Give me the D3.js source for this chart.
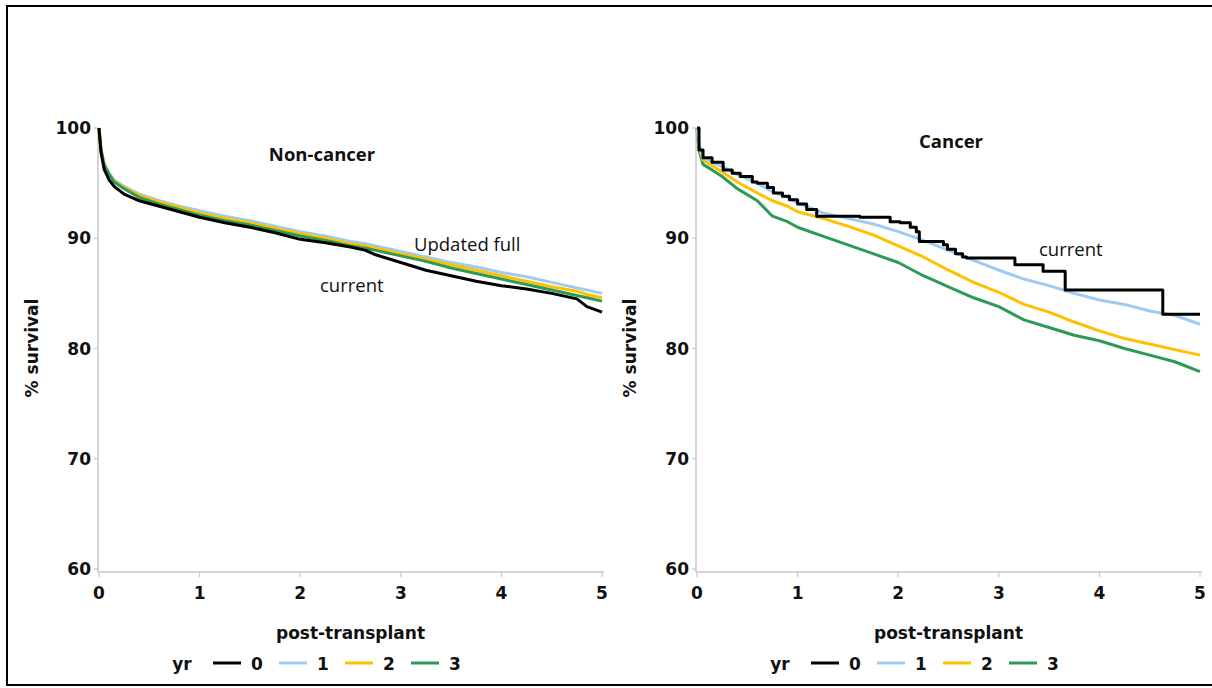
<!DOCTYPE html>
<html>
<head>
<meta charset="utf-8">
<script src="https://cdn.jsdelivr.net/npm/d3@7"></script>
<style>
    body { margin: 0; background: #fff; }
    svg { display: block; }
    .tick-lbl { font-family: "DejaVu Sans", sans-serif; font-weight: bold; font-size: 17px; fill: #111; }
    .note { font-family: "Open Sans", sans-serif; font-size: 18.5px; fill: #111; }
</style>
</head>
<body>
<script>
// years since transplant
const yrLevels = ["0", "1", "2", "3"];
const yrColors = ["#000000", "#9fcaf3", "#ffc000", "#2e9a57"];
const xTicks = [0, 1, 2, 3, 4, 5];
const yTicks = [60, 70, 80, 90, 100];

// Non-cancer: smooth KM curves
const ncTime = [0, 0.02, 0.05, 0.1, 0.15, 0.25, 0.4, 0.6, 0.8, 1.0, 1.25, 1.5, 1.75, 2.0, 2.25, 2.5, 2.65, 2.75, 3.0, 3.25, 3.5, 3.75, 4.0, 4.25, 4.5, 4.75, 4.85, 5.0];
const ncYr0 = [100, 97.8, 96.3, 95.3, 94.7, 94.0, 93.4, 92.9, 92.4, 91.9, 91.4, 91.0, 90.5, 89.9, 89.6, 89.2, 88.9, 88.5, 87.8, 87.1, 86.6, 86.1, 85.7, 85.4, 85.0, 84.5, 83.8, 83.3];
const ncYr1 = [100, 98.1, 96.8, 95.9, 95.3, 94.7, 94.0, 93.4, 92.9, 92.5, 92.0, 91.6, 91.1, 90.6, 90.2, 89.7, 89.5, 89.3, 88.8, 88.3, 87.8, 87.4, 86.9, 86.5, 86.0, 85.5, 85.3, 85.0];
const ncYr2 = [100, 98.0, 96.7, 95.8, 95.2, 94.6, 93.9, 93.3, 92.8, 92.3, 91.8, 91.4, 90.9, 90.4, 90.0, 89.5, 89.3, 89.1, 88.6, 88.1, 87.6, 87.1, 86.6, 86.1, 85.6, 85.2, 84.9, 84.6];
const ncYr3 = [100, 98.0, 96.7, 95.8, 95.1, 94.5, 93.7, 93.1, 92.6, 92.1, 91.6, 91.2, 90.7, 90.2, 89.8, 89.3, 89.1, 88.9, 88.4, 87.9, 87.3, 86.8, 86.3, 85.8, 85.3, 84.8, 84.6, 84.3];

// Cancer: yr 1-3 smooth, yr 0 drawn as steps
const caTime = [0, 0.02, 0.06, 0.15, 0.25, 0.4, 0.6, 0.75, 0.9, 1.0, 1.25, 1.5, 1.75, 2.0, 2.25, 2.5, 2.75, 3.0, 3.25, 3.5, 3.75, 4.0, 4.25, 4.5, 4.75, 5.0];
const caYr1 = [100, 98.5, 97.3, 96.9, 96.5, 95.8, 95.0, 94.2, 93.7, 93.2, 92.3, 91.8, 91.3, 90.6, 89.8, 88.9, 88.0, 87.1, 86.3, 85.7, 85.0, 84.4, 84.0, 83.4, 83.0, 82.2];
const caYr2 = [100, 98.3, 97.1, 96.6, 96.0, 95.1, 94.1, 93.4, 92.9, 92.4, 91.8, 91.1, 90.3, 89.3, 88.3, 87.1, 86.0, 85.1, 84.0, 83.3, 82.4, 81.6, 80.9, 80.4, 79.9, 79.4];
const caYr3 = [100, 98.0, 96.7, 96.2, 95.6, 94.5, 93.4, 92.0, 91.5, 91.0, 90.2, 89.4, 88.6, 87.8, 86.6, 85.6, 84.6, 83.8, 82.6, 81.9, 81.2, 80.7, 80.0, 79.4, 78.8, 77.9];
const caYr0Time = [0, 0.02, 0.06, 0.15, 0.26, 0.35, 0.43, 0.55, 0.6, 0.7, 0.76, 0.85, 0.92, 1.0, 1.09, 1.19, 1.62, 1.92, 2.02, 2.12, 2.18, 2.21, 2.45, 2.49, 2.57, 2.64, 2.68, 3.16, 3.44, 3.66, 4.63, 5.0];
const caYr0 = [100, 98.0, 97.3, 96.9, 96.2, 95.9, 95.6, 95.1, 95.0, 94.6, 94.1, 93.8, 93.5, 93.1, 92.6, 92.0, 91.9, 91.5, 91.4, 91.0, 90.6, 89.7, 89.4, 89.0, 88.6, 88.3, 88.2, 87.6, 87.0, 85.3, 83.1, 83.1];

const width = 1212, height = 688;

const svg = d3.select("body").append("svg")
    .attr("width", width)
    .attr("height", height);

// outer frame
svg.append("rect")
    .attr("x", 7)
    .attr("y", 6)
    .attr("width", 1215)
    .attr("height", 679)
    .attr("fill", "none")
    .attr("stroke", "#000")
    .attr("stroke-width", 2);

function toSeries(time, vals) {
    return time.map((t, i) => ({t: t, v: vals[i]}));
}

const panels = [
    {
        x0: 99, x1: 602,
        title: "Non-cancer", titleX: 322, titleY: 161,
        notes: [
            {text: "Updated full", x: 414, y: 251},
            {text: "current", x: 320, y: 292}
        ],
        series: [
            {yr: 0, data: toSeries(ncTime, ncYr0), curve: d3.curveLinear},
            {yr: 1, data: toSeries(ncTime, ncYr1), curve: d3.curveLinear},
            {yr: 2, data: toSeries(ncTime, ncYr2), curve: d3.curveLinear},
            {yr: 3, data: toSeries(ncTime, ncYr3), curve: d3.curveLinear}
        ],
        order: [1, 2, 3, 0]
    },
    {
        x0: 697, x1: 1200,
        title: "Cancer", titleX: 951, titleY: 148,
        notes: [
            {text: "current", x: 1039, y: 256}
        ],
        series: [
            {yr: 0, data: toSeries(caYr0Time, caYr0), curve: d3.curveStepAfter},
            {yr: 1, data: toSeries(caTime, caYr1), curve: d3.curveLinear},
            {yr: 2, data: toSeries(caTime, caYr2), curve: d3.curveLinear},
            {yr: 3, data: toSeries(caTime, caYr3), curve: d3.curveLinear}
        ],
        order: [3, 2, 1, 0]
    }
];

panels.forEach(p => drawPanel(p));

function drawPanel(p) {
    const x = d3.scaleLinear().domain([0, 5]).range([p.x0, p.x1]);
    const y = d3.scaleLinear().domain([60, 100]).range([569, 128]);
    const axisY = 572;
    const g = svg.append("g");

    // axes
    g.append("line")
        .attr("x1", p.x0 - 1).attr("x2", p.x0 - 1)
        .attr("y1", y(100)).attr("y2", axisY)
        .attr("stroke", "#c8c8c8").attr("stroke-width", 1.5);
    g.append("line")
        .attr("x1", p.x0 - 1).attr("x2", p.x1 + 2)
        .attr("y1", axisY).attr("y2", axisY)
        .attr("stroke", "#c8c8c8").attr("stroke-width", 1.5);

    g.selectAll(".ytick")
        .data(yTicks)
        .enter()
        .append("line")
        .attr("x1", p.x0 - 5).attr("x2", p.x0 - 1)
        .attr("y1", d => y(d)).attr("y2", d => y(d))
        .attr("stroke", "#c8c8c8").attr("stroke-width", 1.2);

    g.selectAll(".ylbl")
        .data(yTicks)
        .enter()
        .append("text")
        .attr("class", "tick-lbl")
        .attr("x", p.x0 - 8)
        .attr("y", d => y(d) + 6)
        .attr("text-anchor", "end")
        .text(d => d);

    g.selectAll(".xtick")
        .data(xTicks)
        .enter()
        .append("line")
        .attr("x1", d => x(d)).attr("x2", d => x(d))
        .attr("y1", axisY).attr("y2", axisY + 5)
        .attr("stroke", "#c8c8c8").attr("stroke-width", 1.2);

    g.selectAll(".xlbl")
        .data(xTicks)
        .enter()
        .append("text")
        .attr("class", "tick-lbl")
        .attr("x", d => x(d))
        .attr("y", 599)
        .attr("text-anchor", "middle")
        .text(d => d);

    g.append("text")
        .attr("class", "tick-lbl")
        .attr("x", (p.x0 + p.x1) / 2)
        .attr("y", 639)
        .attr("text-anchor", "middle")
        .text("post-transplant");

    g.append("text")
        .attr("class", "tick-lbl")
        .attr("transform", `translate(${p.x0 - 61},348) rotate(-90)`)
        .attr("text-anchor", "middle")
        .text("% survival");

    // curves
    const line = d3.line()
        .x(d => x(d.t))
        .y(d => y(d.v));

    p.order.forEach(k => {
        const s = p.series.find(d => d.yr === k);
        g.append("path")
            .datum(s.data)
            .attr("fill", "none")
            .attr("stroke", yrColors[k])
            .attr("stroke-width", 3)
            .attr("stroke-linejoin", "round")
            .attr("d", line.curve(s.curve));
    });

    // labels inside the plot
    g.append("text")
        .attr("class", "note")
        .attr("x", p.titleX)
        .attr("y", p.titleY)
        .attr("text-anchor", "middle")
        .style("font-weight", "bold")
        .style("font-size", "18.5px")
        .text(p.title);

    p.notes.forEach(n => {
        g.append("text")
            .attr("class", "note")
            .attr("x", n.x)
            .attr("y", n.y)
            .text(n.text);
    });

    // legend
    const leg = g.append("g")
        .attr("transform", `translate(${p.x0},663)`);
    leg.append("text")
        .attr("class", "tick-lbl")
        .attr("x", 83)
        .attr("y", 7)
        .attr("text-anchor", "middle")
        .text("yr");
    yrLevels.forEach((lv, i) => {
        const lx = 114 + i * 66;
        leg.append("line")
            .attr("x1", lx).attr("x2", lx + 28)
            .attr("y1", 0).attr("y2", 0)
            .attr("stroke", yrColors[i])
            .attr("stroke-width", 3);
        leg.append("text")
            .attr("class", "tick-lbl")
            .attr("x", lx + 44)
            .attr("y", 7)
            .attr("text-anchor", "middle")
            .text(lv);
    });
}
</script>
</body>
</html>
